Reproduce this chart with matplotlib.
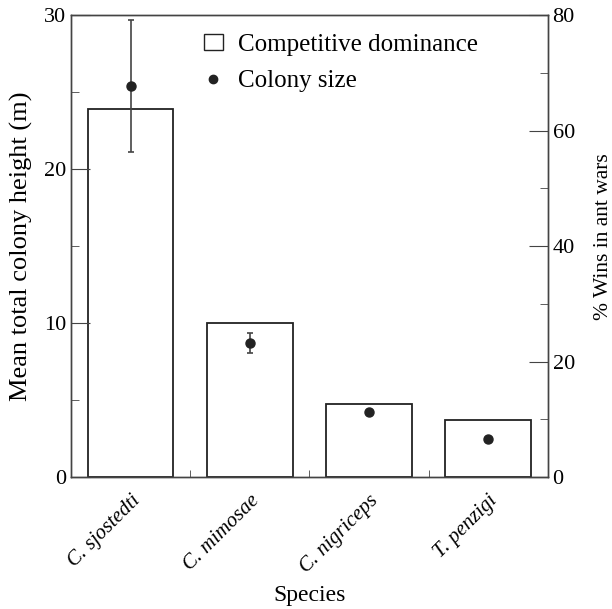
import numpy as np
import matplotlib.pyplot as plt
import matplotlib.transforms as mtransforms
from matplotlib.lines import Line2D
from matplotlib.patches import Patch

plt.rcParams['font.family'] = ['Liberation Serif', 'DejaVu Serif']

# data
species = ['C. sjostedti', 'C. mimosae', 'C. nigriceps', 'T. penzigi']
wins_pct = [63.7, 26.7, 12.7, 9.9]          # competitive dominance (% wins), right axis
height_m = [25.4, 8.72, 4.2, 2.45]          # mean colony height (m), left axis
height_err = [4.3, 0.65, 0.0, 0.0]

fig = plt.figure(figsize=(6.12, 6.09), dpi=100)
ax = fig.add_axes([0.116, 0.2167, 0.779, 0.7586])
ax2 = ax.twinx()

x = np.arange(len(species))
ax2.bar(x, wins_pct, width=0.72, facecolor='white', edgecolor='#222222', linewidth=1.3)
ax.errorbar(x, height_m, yerr=height_err, fmt='o', color='#222222', ms=6.5,
            ecolor='#444444', elinewidth=1.2, capsize=2, capthick=1.2)

# keep points on top of bars
ax.set_zorder(ax2.get_zorder() + 1)
ax.patch.set_visible(False)

ax.set_xlim(-0.5, 3.5)
ax.set_ylim(0, 30)
ax2.set_ylim(0, 80)

ax.set_yticks([0, 10, 20, 30])
ax.set_yticks([5, 15, 25], minor=True)
ax2.set_yticks([0, 20, 40, 60, 80])
ax2.set_yticks([10, 30, 50, 70], minor=True)
ax.set_xticks(x)
ax.set_xticks([0.5, 1.5, 2.5], minor=True)
ax.set_xticklabels(species, rotation=45, ha='right', rotation_mode='anchor',
                   fontstyle='italic', fontsize=15)
shift = mtransforms.ScaledTranslation(-0.04, 0, fig.dpi_scale_trans)
for lab in ax.get_xticklabels():
    lab.set_transform(lab.get_transform() + shift)

ax.tick_params(axis='x', which='major', length=0, pad=10)
ax.tick_params(axis='x', which='minor', direction='in', length=5, color='#444444')
ax.tick_params(axis='y', which='major', direction='in', length=14, labelsize=16, color='#444444')
ax.tick_params(axis='y', which='minor', direction='in', length=6, color='#444444')
ax2.tick_params(axis='y', which='major', direction='in', length=14, labelsize=16, color='#444444')
ax2.tick_params(axis='y', which='minor', direction='in', length=6, color='#444444')

for a in (ax, ax2):
    for s in a.spines.values():
        s.set_color('#444444')
        s.set_linewidth(1.0)

ax.set_xlabel('Species', fontsize=17, labelpad=6)
ax.set_ylabel('Mean total colony height (m)', fontsize=19)
ax.yaxis.set_label_coords(-0.08, 0.5)
ax2.set_ylabel('% Wins in ant wars', fontsize=15.5, rotation=90)
ax2.yaxis.set_label_coords(1.098, 0.52)

handles = [Patch(facecolor='white', edgecolor='#222222', linewidth=1.0),
           Line2D([], [], marker='o', color='#222222', ls='none', ms=6)]
ax.legend(handles, ['Competitive dominance', 'Colony size'], loc='upper left',
          bbox_to_anchor=(0.279, 0.959), frameon=False, fontsize=18,
          borderpad=0, borderaxespad=0,
          handlelength=0.75, handleheight=0.6, handletextpad=0.6, labelspacing=0.56)

fig.savefig('out.png', dpi=100)
